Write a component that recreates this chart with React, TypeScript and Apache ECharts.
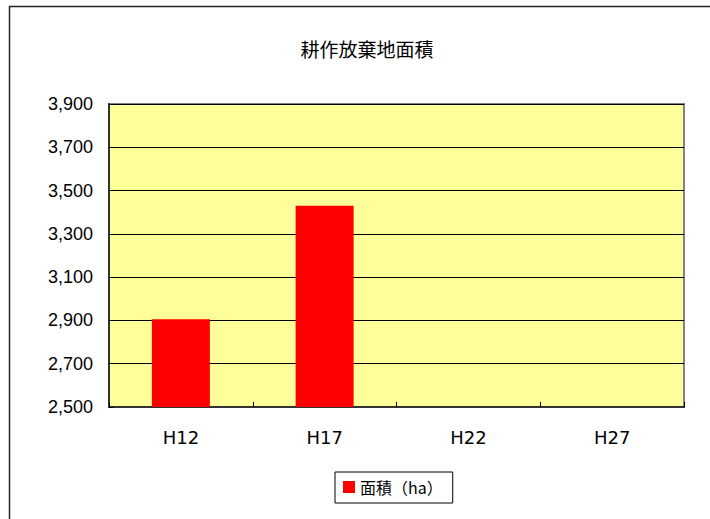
import React, { useEffect, useRef } from "react";
import * as echarts from "echarts";

const categories = ["H12", "H17", "H22", "H27"];
const areaValues: (number | null)[] = [2905, 3430, null, null];
const seriesName = "面積（ha）";
const titleText = "耕作放棄地面積";

export default function App() {
  const ref = useRef<HTMLDivElement>(null);
  useEffect(() => {
    if (!ref.current) return;
    const chart = echarts.init(ref.current, undefined, { renderer: "svg" });
    chart.setOption({
      animation: false,
      backgroundColor: "#ffffff",
      title: {
        text: titleText,
        left: 362,
        textAlign: "center",
        top: 34,
        textStyle: {
          fontFamily: "Noto Sans CJK JP",
          fontSize: 19,
          fontWeight: "normal",
          color: "#000",
        },
      },
      graphic: [
        {
          type: "rect",
          shape: { x: 9.5, y: 6.5, width: 740, height: 560 },
          style: { fill: "none", stroke: "#222", lineWidth: 1.5 },
          silent: true,
          z: 100,
        },
      ],
      legend: {
        left: 335,
        top: 472,
        data: [seriesName],
        icon: "rect",
        itemWidth: 12,
        itemHeight: 12,
        itemGap: 4,
        padding: [7, 10, 8, 8],
        borderColor: "#000",
        borderWidth: 1,
        textStyle: {
          fontFamily: "Noto Sans CJK JP",
          fontSize: 16,
          color: "#000",
        },
      },
      grid: {
        left: 109,
        right: 26,
        top: 104,
        bottom: 112,
        show: true,
        backgroundColor: "#FFFF99",
        borderColor: "#808080",
        borderWidth: 2,
      },
      xAxis: {
        type: "category",
        data: categories,
        axisLine: { show: true, lineStyle: { color: "#333", width: 2 } },
        axisTick: { show: true, inside: true, length: 5, lineStyle: { color: "#000" } },
        axisLabel: {
          margin: 21,
          fontFamily: "DejaVu Sans",
          fontSize: 18,
          color: "#000",
        },
      },
      yAxis: {
        type: "value",
        min: 2500,
        max: 3900,
        interval: 200,
        axisLine: { show: true, lineStyle: { color: "#333", width: 2 } },
        axisTick: { show: true, inside: true, length: 4, lineStyle: { color: "#000" } },
        splitLine: { show: true, lineStyle: { color: "#000", width: 1 } },
        axisLabel: {
          margin: 16,
          fontFamily: "Liberation Sans",
          fontSize: 18,
          color: "#000",
          formatter: (v: number) => v.toLocaleString("en-US"),
        },
      },
      series: [
        {
          name: seriesName,
          type: "bar",
          data: areaValues,
          barWidth: 58,
          itemStyle: { color: "#FF0000" },
        },
      ],
    });
    return () => chart.dispose();
  }, []);
  return <div ref={ref} style={{ width: 710, height: 519, position: "absolute", left: 0, top: 0 }} />;
}
